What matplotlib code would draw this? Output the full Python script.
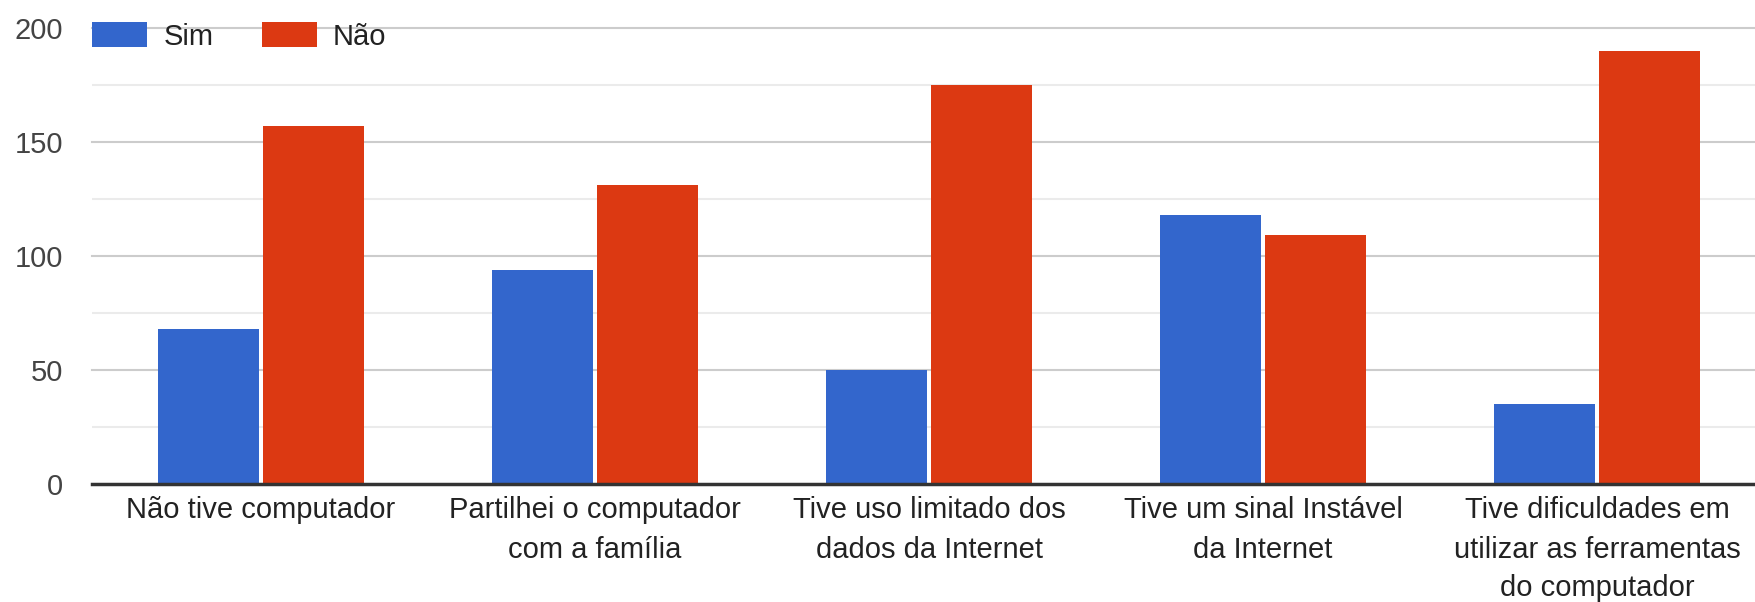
import numpy as np
import matplotlib
matplotlib.use("Agg")
import matplotlib.pyplot as plt
from matplotlib.patches import Patch

plt.rcParams['font.family'] = ['Liberation Sans', 'DejaVu Sans']

##### DATA #####
categories = ["Não tive computador",
              "Partilhei o computador\ncom a família",
              "Tive uso limitado dos\ndados da Internet",
              "Tive um sinal Instável\nda Internet",
              "Tive dificuldades em\nutilizar as ferramentas\ndo computador"]
sim = [68, 94, 50, 118, 35]
nao = [157, 131, 175, 109, 190]
series_names = ["Sim", "Não"]
yticks = [0, 50, 100, 150, 200]

BLUE = '#3366CC'
RED = '#DC3912'

##### PLOT #####
W, H = 1756, 602
fig = plt.figure(figsize=(W / 100, H / 100), dpi=100)
# axes box in pixels: left 92, top 28, bottom 484, right edge of image
ax = fig.add_axes([92 / W, (H - 484) / H, (W - 92) / W, 456 / H])

x = np.arange(len(categories))
bw = 0.303
off = 0.157
ax.bar(x - off, sim, width=bw, color=BLUE, linewidth=0, zorder=3)
ax.bar(x + off, nao, width=bw, color=RED, linewidth=0, zorder=3)

ax.set_xlim(-0.506, 4.476)
ax.set_ylim(0, 200)

# gridlines
for v in np.arange(25, 200, 50):
    ax.axhline(v, color='#ebebeb', lw=1.5, zorder=1)
for v in yticks[1:]:
    ax.axhline(v, color='#cccccc', lw=1.5, zorder=1, clip_on=False)
ax.axhline(0, color='#333333', lw=2.5, zorder=4, clip_on=False)

for s in ax.spines.values():
    s.set_visible(False)

ax.set_yticks(yticks)
ax.set_yticklabels([str(v) for v in yticks])
ax.tick_params(axis='y', length=0, pad=21, labelsize=21, labelcolor='#444444')
ax.set_xticks(x)
ax.set_xticklabels(categories, linespacing=1.5)
ax.tick_params(axis='x', length=0, pad=9, labelsize=21, labelcolor='#222222')

##### LEGEND #####
handles = [Patch(facecolor=BLUE, label=series_names[0]),
           Patch(facecolor=RED, label=series_names[1])]
fig.legend(handles=handles, loc='upper left',
           bbox_to_anchor=(92 / W, 1 - 22 / H), ncol=2, frameon=False,
           fontsize=21, handlelength=1.9, handleheight=0.95,
           handletextpad=0.55, columnspacing=1.65, borderpad=0,
           borderaxespad=0, labelcolor='#222222')

fig.savefig('out.png', dpi=100, facecolor='white')
